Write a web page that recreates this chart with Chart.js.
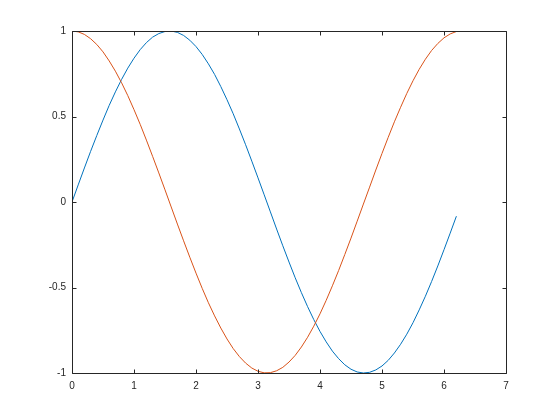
<!DOCTYPE html>
<html>
<head>
<meta charset="utf-8">
<script src="https://cdn.jsdelivr.net/npm/chart.js@4"></script>
<style>
  html, body { margin: 0; padding: 0; background: #fff; }
  #wrap { width: 560px; height: 420px; }
</style>
</head>
<body>
<div id="wrap"><canvas id="plot" width="560" height="420"></canvas></div>
<script>
// x samples, 0 to 6.2 in 0.1 steps
const xVals = [0.0,0.1,0.2,0.3,0.4,0.5,0.6,0.7,0.8,0.9,1.0,1.1,1.2,1.3,1.4,1.5,1.6,1.7,1.8,1.9,
  2.0,2.1,2.2,2.3,2.4,2.5,2.6,2.7,2.8,2.9,3.0,3.1,3.2,3.3,3.4,3.5,3.6,3.7,3.8,3.9,
  4.0,4.1,4.2,4.3,4.4,4.5,4.6,4.7,4.8,4.9,5.0,5.1,5.2,5.3,5.4,5.5,5.6,5.7,5.8,5.9,
  6.0,6.1,6.2];

// blue curve
const blueVals = [0.000,0.100,0.199,0.296,0.389,0.479,0.565,0.644,0.717,0.783,
  0.841,0.891,0.932,0.964,0.985,0.997,1.000,0.992,0.974,0.946,
  0.909,0.863,0.808,0.746,0.675,0.598,0.516,0.427,0.335,0.239,
  0.141,0.042,-0.058,-0.158,-0.256,-0.351,-0.443,-0.530,-0.612,-0.688,
  -0.757,-0.818,-0.872,-0.916,-0.952,-0.978,-0.994,-1.000,-0.996,-0.982,
  -0.959,-0.926,-0.883,-0.832,-0.773,-0.706,-0.631,-0.551,-0.465,-0.374,
  -0.279,-0.182,-0.083];

// orange curve
const orangeVals = [1.000,0.995,0.980,0.955,0.921,0.878,0.825,0.765,0.697,0.622,
  0.540,0.454,0.362,0.267,0.170,0.071,-0.029,-0.129,-0.227,-0.323,
  -0.416,-0.505,-0.589,-0.666,-0.737,-0.801,-0.857,-0.904,-0.942,-0.971,
  -0.990,-0.999,-0.998,-0.987,-0.967,-0.936,-0.897,-0.848,-0.791,-0.726,
  -0.654,-0.575,-0.490,-0.401,-0.307,-0.211,-0.112,-0.012,0.087,0.187,
  0.284,0.378,0.469,0.554,0.635,0.709,0.776,0.835,0.886,0.927,
  0.960,0.983,0.997];

const xTicks = [0, 1, 2, 3, 4, 5, 6, 7];
const yTicks = [-1, -0.5, 0, 0.5, 1];
const yLabels = ['-1', '-0.5', '0', '0.5', '1'];

const axisColor = '#262626';

function toPoints(xs, ys) {
  return xs.map((x, i) => ({ x: x, y: ys[i] }));
}

// draws the box and the inward ticks on all four sides
const boxPlugin = {
  id: 'box',
  afterDraw(chart) {
    const c = chart.ctx;
    const a = chart.chartArea;
    const xs = chart.scales.x, ys = chart.scales.y;
    const L = Math.round(a.left) + 0.5, R = Math.round(a.right) + 0.5;
    const T = Math.round(a.top) + 0.5, B = Math.round(a.bottom) + 0.5;
    const len = 4;
    c.save();
    c.strokeStyle = axisColor;
    c.lineWidth = 1;
    c.beginPath();
    c.rect(L, T, R - L, B - T);
    xTicks.forEach(v => {
      const px = Math.round(xs.getPixelForValue(v)) + 0.5;
      c.moveTo(px, B); c.lineTo(px, B - len);
      c.moveTo(px, T); c.lineTo(px, T + len);
    });
    yTicks.forEach(v => {
      const py = Math.round(ys.getPixelForValue(v)) + 0.5;
      c.moveTo(L, py); c.lineTo(L + len, py);
      c.moveTo(R, py); c.lineTo(R - len, py);
    });
    c.stroke();
    c.restore();
  }
};

new Chart(document.getElementById('plot'), {
  type: 'line',
  data: {
    datasets: [
      {
        data: toPoints(xVals, blueVals),
        borderColor: '#0072BD',
        borderWidth: 1,
        pointRadius: 0,
        tension: 0,
        fill: false,
        order: 1
      },
      {
        data: toPoints(xVals, orangeVals),
        borderColor: '#D95319',
        borderWidth: 1,
        pointRadius: 0,
        tension: 0,
        fill: false,
        order: 0
      }
    ]
  },
  options: {
    responsive: false,
    animation: false,
    devicePixelRatio: 1,
    layout: { padding: { top: 31, right: 54, left: 0, bottom: 0 } },
    plugins: {
      legend: { display: false },
      tooltip: { enabled: false }
    },
    scales: {
      x: {
        type: 'linear',
        min: 0,
        max: 7,
        afterFit(s) { s.height = 47; },
        afterBuildTicks(s) { s.ticks = xTicks.map(v => ({ value: v })); },
        grid: { display: false, drawTicks: false },
        border: { display: false },
        ticks: {
          color: axisColor,
          font: { family: 'Liberation Sans, Arial, sans-serif', size: 10 },
          padding: 7,
          maxRotation: 0,
          callback: (v) => String(v)
        }
      },
      y: {
        type: 'linear',
        min: -1,
        max: 1,
        afterFit(s) { s.width = 72; },
        afterBuildTicks(s) { s.ticks = yTicks.map(v => ({ value: v })); },
        grid: { display: false, drawTicks: false },
        border: { display: false },
        ticks: {
          color: axisColor,
          font: { family: 'Liberation Sans, Arial, sans-serif', size: 10 },
          padding: 6,
          callback: (v, i) => yLabels[i]
        }
      }
    }
  },
  plugins: [boxPlugin]
});
</script>
</body>
</html>
